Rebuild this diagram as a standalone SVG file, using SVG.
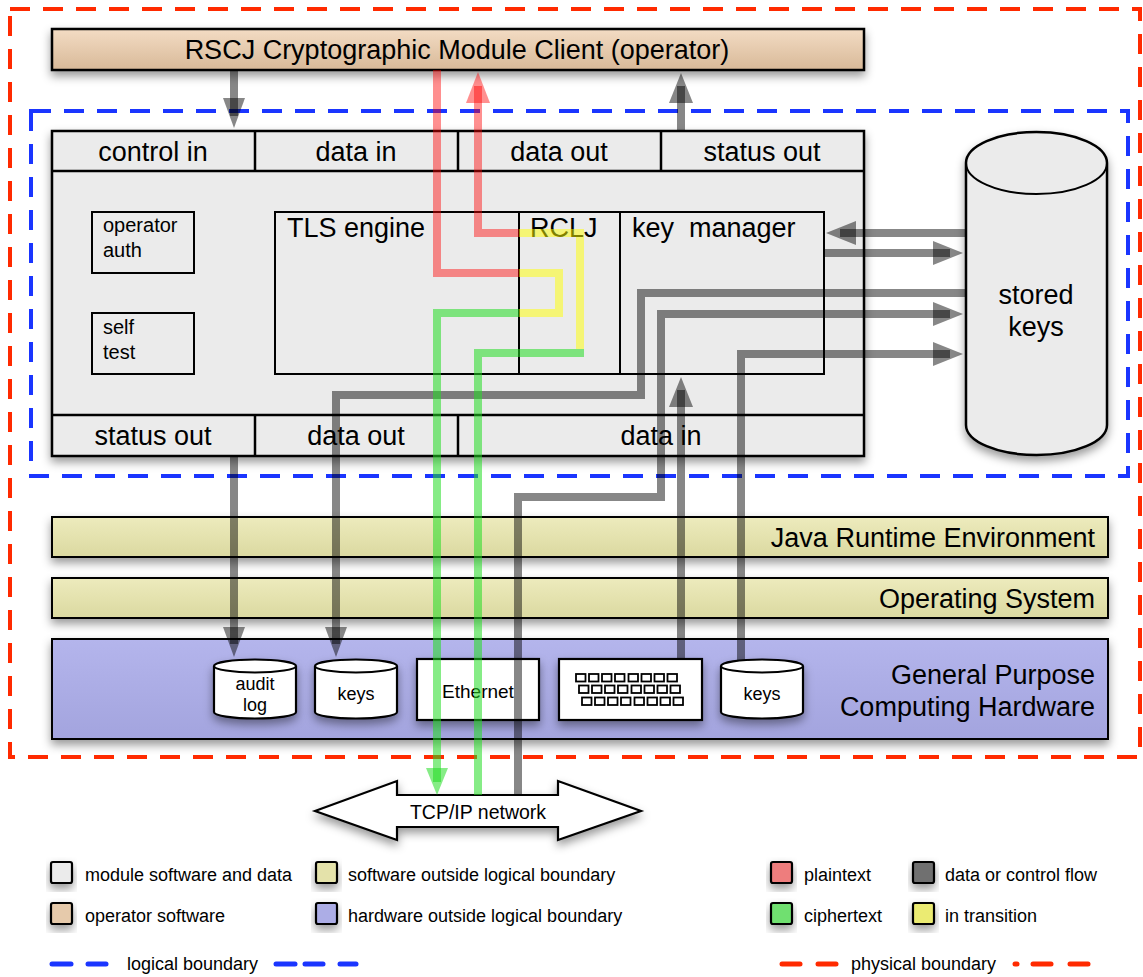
<svg xmlns="http://www.w3.org/2000/svg" width="1143" height="977" viewBox="0 0 1143 977">
<defs>
<filter id="sh" x="-20%" y="-20%" width="140%" height="160%"><feDropShadow dx="0" dy="5" stdDeviation="5" flood-color="#000" flood-opacity="0.4"/></filter>
<linearGradient id="gTan" x1="0" y1="0" x2="0" y2="1"><stop offset="0" stop-color="#f3dcc4"/><stop offset="1" stop-color="#d8b998"/></linearGradient>
<linearGradient id="gYel" x1="0" y1="0" x2="0" y2="1"><stop offset="0" stop-color="#edebbd"/><stop offset="1" stop-color="#dbd9a0"/></linearGradient>
<linearGradient id="gHw" x1="0" y1="0" x2="0" y2="1"><stop offset="0" stop-color="#b4b5ec"/><stop offset="1" stop-color="#a3a4de"/></linearGradient>
</defs>
<style>
text{font-family:"Liberation Sans",Arial,sans-serif;fill:#000}
.big{font-size:27px}
.mid{font-size:20px}
.sm{font-size:18px}
.box{stroke:#000;stroke-width:2.5}
.hw{fill:#fff;stroke:#000;stroke-width:2.2}
.gray{fill:none;stroke:#000;stroke-opacity:.47;stroke-width:8;stroke-linejoin:miter}
.grayh{fill:#000;fill-opacity:.47}
.red{fill:none;stroke:#ff0000;stroke-opacity:.44;stroke-width:8}
.redh{fill:#ff0000;fill-opacity:.44}
.grn{fill:none;stroke:#22dd22;stroke-opacity:.55;stroke-width:8}
.grnh{fill:#22dd22;fill-opacity:.55}
.yel{fill:none;stroke:#ffff00;stroke-opacity:.5;stroke-width:8}
.key{fill:#fff;stroke:#000;stroke-width:1.8}
.sw{stroke:#000;stroke-width:2.2}
</style>

<g id="physical-boundary"><rect x="10" y="9" width="1130" height="748" fill="none" stroke="#ff2a00" stroke-width="4" stroke-dasharray="20 13"/></g>
<g id="logical-boundary"><rect x="31" y="111" width="1097" height="365" fill="none" stroke="#1a35ff" stroke-width="4" stroke-dasharray="20 13"/></g>

<g id="client">
<rect x="52" y="29" width="812" height="41" fill="url(#gTan)" class="box" filter="url(#sh)"/>
<text class="big" x="457" y="59" text-anchor="middle">RSCJ Cryptographic Module Client (operator)</text>
</g>

<g id="module">
<rect x="52" y="131" width="812" height="325" fill="#ebebeb" class="box" filter="url(#sh)"/>
<line x1="52" y1="171" x2="864" y2="171" stroke="#000" stroke-width="2.5"/>
<line x1="52" y1="415" x2="864" y2="415" stroke="#000" stroke-width="2.5"/>
<line x1="255" y1="131" x2="255" y2="171" stroke="#000" stroke-width="2.5"/>
<line x1="458" y1="131" x2="458" y2="171" stroke="#000" stroke-width="2.5"/>
<line x1="661" y1="131" x2="661" y2="171" stroke="#000" stroke-width="2.5"/>
<line x1="255" y1="415" x2="255" y2="456" stroke="#000" stroke-width="2.5"/>
<line x1="458" y1="415" x2="458" y2="456" stroke="#000" stroke-width="2.5"/>
<text class="big" x="153" y="161" text-anchor="middle">control in</text>
<text class="big" x="356" y="161" text-anchor="middle">data in</text>
<text class="big" x="559" y="161" text-anchor="middle">data out</text>
<text class="big" x="762" y="161" text-anchor="middle">status out</text>
<text class="big" x="153" y="445" text-anchor="middle">status out</text>
<text class="big" x="356" y="445" text-anchor="middle">data out</text>
<text class="big" x="661" y="445" text-anchor="middle">data in</text>
</g>

<g id="operator-auth">
<rect x="92" y="212" width="102" height="61" fill="#ebebeb" stroke="#000" stroke-width="2"/>
<text class="mid" x="103" y="232">operator</text>
<text class="mid" x="103" y="257">auth</text>
</g>
<g id="self-test">
<rect x="92" y="313" width="102" height="61" fill="#ebebeb" stroke="#000" stroke-width="2"/>
<text class="mid" x="103" y="334">self</text>
<text class="mid" x="103" y="359">test</text>
</g>
<g id="tls-engine">
<rect x="275" y="212" width="244" height="162" fill="#ebebeb" stroke="#000" stroke-width="2"/>
<text class="big" x="287" y="237">TLS engine</text>
</g>
<g id="rclj">
<rect x="519" y="212" width="101" height="162" fill="#ebebeb" stroke="#000" stroke-width="2"/>
<text class="big" x="530" y="237">RCLJ</text>
</g>
<g id="key-manager">
<rect x="620" y="212" width="204" height="162" fill="#ebebeb" stroke="#000" stroke-width="2"/>
<text class="big" x="632" y="237" xml:space="preserve">key  manager</text>
</g>

<g id="stored-keys">
<path d="M966,163 A70.5,31 0 0 1 1107,163 V425 A70.5,30 0 0 1 966,425 Z" fill="#ebebeb" class="box" filter="url(#sh)"/>
<path d="M966,163 A70.5,31 0 0 0 1107,163" fill="none" stroke="#000" stroke-width="2"/>
<text class="big" x="1036" y="304" text-anchor="middle">stored</text>
<text class="big" x="1036" y="336" text-anchor="middle">keys</text>
</g>

<g id="jre">
<rect x="52" y="517" width="1056" height="40" fill="url(#gYel)" stroke="#000" stroke-width="2" filter="url(#sh)"/>
<text class="big" x="1095" y="547" text-anchor="end">Java Runtime Environment</text>
</g>
<g id="os">
<rect x="52" y="578" width="1056" height="40" fill="url(#gYel)" stroke="#000" stroke-width="2" filter="url(#sh)"/>
<text class="big" x="1095" y="608" text-anchor="end">Operating System</text>
</g>
<g id="hardware">
<rect x="52" y="639" width="1056" height="100" fill="url(#gHw)" stroke="#000" stroke-width="2" filter="url(#sh)"/>
<text class="big" x="1095" y="684" text-anchor="end">General Purpose</text>
<text class="big" x="1095" y="716" text-anchor="end">Computing Hardware</text>
</g>

<g id="audit-log">
<path d="M214,666 A41,6.5 0 0 1 296,666 V712 A41,6.5 0 0 1 214,712 Z" class="hw" filter="url(#sh)"/>
<path d="M214,666 A41,6.5 0 0 0 296,666" fill="none" stroke="#000" stroke-width="2"/>
<text class="sm" x="255" y="690" text-anchor="middle">audit</text>
<text class="sm" x="255" y="711" text-anchor="middle">log</text>
</g>
<g id="keys-out">
<path d="M315,666 A41,6.5 0 0 1 397,666 V712 A41,6.5 0 0 1 315,712 Z" class="hw" filter="url(#sh)"/>
<path d="M315,666 A41,6.5 0 0 0 397,666" fill="none" stroke="#000" stroke-width="2"/>
<text class="sm" x="356" y="700" text-anchor="middle">keys</text>
</g>
<g id="ethernet">
<rect x="417" y="659" width="122" height="61" class="hw" filter="url(#sh)"/>
<text x="478" y="698" text-anchor="middle" style="font-size:19px">Ethernet</text>
</g>
<g id="keyboard">
<rect x="559" y="659" width="143" height="61" class="hw" filter="url(#sh)"/>
<g>
<rect class="key" x="576" y="674" width="9.5" height="7.5"/><rect class="key" x="589" y="674" width="9.5" height="7.5"/><rect class="key" x="602" y="674" width="9.5" height="7.5"/><rect class="key" x="615" y="674" width="9.5" height="7.5"/><rect class="key" x="628.5" y="674" width="9.5" height="7.5"/><rect class="key" x="641.5" y="674" width="9.5" height="7.5"/><rect class="key" x="654.5" y="674" width="9.5" height="7.5"/><rect class="key" x="667.5" y="674" width="9.5" height="7.5"/>
<rect class="key" x="579" y="685.5" width="9.5" height="7.5"/><rect class="key" x="592" y="685.5" width="9.5" height="7.5"/><rect class="key" x="605" y="685.5" width="9.5" height="7.5"/><rect class="key" x="618" y="685.5" width="9.5" height="7.5"/><rect class="key" x="631.5" y="685.5" width="9.5" height="7.5"/><rect class="key" x="644.5" y="685.5" width="9.5" height="7.5"/><rect class="key" x="657.5" y="685.5" width="9.5" height="7.5"/><rect class="key" x="670.5" y="685.5" width="9.5" height="7.5"/>
<rect class="key" x="582" y="697.5" width="9.5" height="7.5"/><rect class="key" x="595" y="697.5" width="9.5" height="7.5"/><rect class="key" x="608" y="697.5" width="9.5" height="7.5"/><rect class="key" x="621" y="697.5" width="9.5" height="7.5"/><rect class="key" x="634.5" y="697.5" width="9.5" height="7.5"/><rect class="key" x="647.5" y="697.5" width="9.5" height="7.5"/><rect class="key" x="660.5" y="697.5" width="9.5" height="7.5"/><rect class="key" x="673.5" y="697.5" width="9.5" height="7.5"/>
</g>
</g>
<g id="keys-in">
<path d="M721,666 A41,6.5 0 0 1 803,666 V712 A41,6.5 0 0 1 721,712 Z" class="hw" filter="url(#sh)"/>
<path d="M721,666 A41,6.5 0 0 0 803,666" fill="none" stroke="#000" stroke-width="2"/>
<text class="sm" x="762" y="700" text-anchor="middle">keys</text>
</g>

<g id="tcpip-network">
<path d="M315,811 L397,781 V795 H558 V781 L641,811 L558,840 V827 H397 V840 Z" fill="#fff" stroke="#000" stroke-width="2.2" filter="url(#sh)"/>
<text x="478" y="819" text-anchor="middle" style="font-size:19.5px">TCP/IP network</text>
</g>

<g id="connectors">
<path class="gray" d="M234,70 V116"/><polygon class="grayh" points="223,98 245,98 234,128"/>
<path class="gray" d="M681,131 V86"/><polygon class="grayh" points="669,103 693,103 681,73"/>
<path class="gray" d="M966,233 H840"/><polygon class="grayh" points="856,221 856,245 826,233"/>
<path class="gray" d="M824,253 H950"/><polygon class="grayh" points="933,241 933,265 963,253"/>
<path class="gray" d="M966,293 H641 V395 H336 V644"/><polygon class="grayh" points="325,627 347,627 336,657"/>
<path class="gray" d="M518,795 V497 H661 V314 H950"/><polygon class="grayh" points="933,302 933,326 963,314"/>
<path class="gray" d="M741,661 V354 H950"/><polygon class="grayh" points="933,342 933,366 963,354"/>
<path class="gray" d="M681,659 V390"/><polygon class="grayh" points="669,407 693,407 681,377"/>
<path class="gray" d="M234,456 V644"/><polygon class="grayh" points="223,627 245,627 234,657"/>
<path class="red" d="M437,70 V273 H519"/>
<path class="red" d="M519,233 H478 V86"/><polygon class="redh" points="466,103 490,103 478,72"/>
<path class="yel" d="M519,273 H559 V313 H519"/>
<path class="yel" d="M519,233 H580 V349"/>
<path class="grn" d="M519,313 H437 V782"/><polygon class="grnh" points="426,768 448,768 437,795"/>
<path class="grn" d="M584,353 H478 V795"/>
</g>

<g id="legend">
<rect x="51" y="862" width="21" height="21" rx="2" fill="#ebebeb" class="sw" filter="url(#sh)"/>
<text class="sm" x="85" y="881">module software and data</text>
<rect x="51" y="903" width="21" height="21" rx="2" fill="#e6caab" class="sw" filter="url(#sh)"/>
<text class="sm" x="85" y="922">operator software</text>
<rect x="316" y="862" width="21" height="21" rx="2" fill="#e4e2aa" class="sw" filter="url(#sh)"/>
<text class="sm" x="348" y="881">software outside logical boundary</text>
<rect x="316" y="903" width="21" height="21" rx="2" fill="#acade6" class="sw" filter="url(#sh)"/>
<text class="sm" x="348" y="922">hardware outside logical boundary</text>
<rect x="771" y="862" width="21" height="21" rx="2" fill="#ee7d7d" class="sw" filter="url(#sh)"/>
<text class="sm" x="804" y="881">plaintext</text>
<rect x="771" y="903" width="21" height="21" rx="2" fill="#70e070" class="sw" filter="url(#sh)"/>
<text class="sm" x="804" y="922">ciphertext</text>
<rect x="913" y="862" width="21" height="21" rx="2" fill="#707070" class="sw" filter="url(#sh)"/>
<text class="sm" x="945" y="881">data or control flow</text>
<rect x="913" y="903" width="21" height="21" rx="2" fill="#ebeb72" class="sw" filter="url(#sh)"/>
<text class="sm" x="945" y="922">in transition</text>
<g stroke="#1a35ff" stroke-width="5" stroke-linecap="round">
<line x1="52" y1="964" x2="71" y2="964"/><line x1="88" y1="964" x2="106" y2="964"/>
<line x1="276" y1="964" x2="295" y2="964"/><line x1="305" y1="964" x2="323" y2="964"/><line x1="340" y1="964" x2="356" y2="964"/>
</g>
<text class="sm" x="127" y="970">logical boundary</text>
<g stroke="#ff2a00" stroke-width="5" stroke-linecap="round">
<line x1="782" y1="964" x2="800" y2="964"/><line x1="818" y1="964" x2="836" y2="964"/>
<line x1="1015" y1="964" x2="1017" y2="964"/><line x1="1033" y1="964" x2="1051" y2="964"/><line x1="1070" y1="964" x2="1088" y2="964"/>
</g>
<text class="sm" x="851" y="970">physical boundary</text>
</g>
</svg>
